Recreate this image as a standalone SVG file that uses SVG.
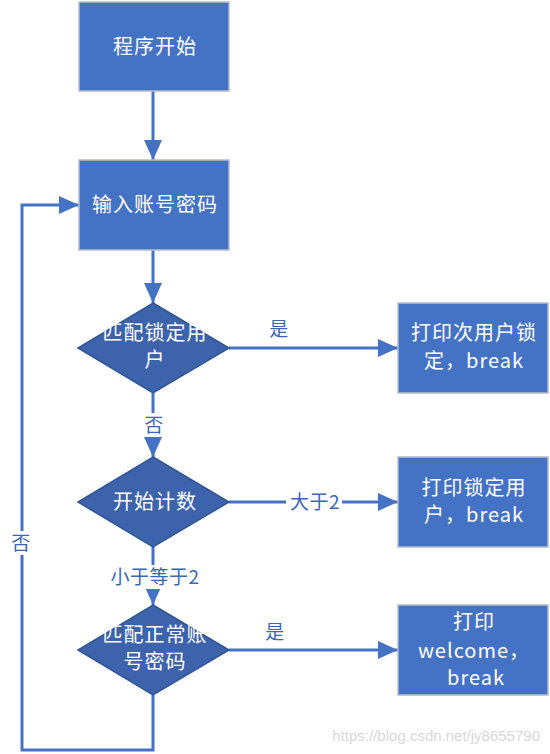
<svg xmlns="http://www.w3.org/2000/svg" width="550" height="754" viewBox="0 0 550 754">
<defs>
<marker id="arr" markerUnits="userSpaceOnUse" markerWidth="20" markerHeight="18" viewBox="0 0 20 18" refX="20" refY="9" orient="auto">
<path d="M0,0 L20,9 L0,18 Z" fill="#4472C4"/>
</marker>
<style>
.box{fill:#4472C4;stroke:#B4BCCB;stroke-width:1.5}
.dia{fill:#3C63AB;stroke:#2F5597;stroke-width:1.5}
.nt{fill:#FFFFFF;font-family:"Noto Sans CJK SC","Liberation Sans",sans-serif;font-size:20px;letter-spacing:1px;text-anchor:middle}
.lt{fill:#3B66B8;font-family:"Noto Sans CJK SC","Liberation Sans",sans-serif;font-size:19px;letter-spacing:0.5px;text-anchor:middle}
.ln{fill:none;stroke:#4472C4;stroke-width:3}
</style>
</defs>
<rect width="550" height="754" fill="#FFFFFF"/>
<g id="connectors">
<line class="ln" x1="153" y1="91" x2="153" y2="160" marker-end="url(#arr)"/>
<line class="ln" x1="153" y1="250" x2="153" y2="303" marker-end="url(#arr)"/>
<line class="ln" x1="229" y1="348" x2="398" y2="348" marker-end="url(#arr)"/>
<line class="ln" x1="153" y1="393" x2="153" y2="457" marker-end="url(#arr)"/>
<line class="ln" x1="229" y1="502" x2="398" y2="502" marker-end="url(#arr)"/>
<line class="ln" x1="153" y1="547" x2="153" y2="605" marker-end="url(#arr)"/>
<line class="ln" x1="229" y1="650" x2="398" y2="650" marker-end="url(#arr)"/>
<polyline class="ln" points="153,695 153,750 22,750 22,205 79,205" marker-end="url(#arr)"/>
<text class="lt" x="279" y="336">是</text>
<rect x="142" y="413" width="22" height="24" fill="#FFFFFF"/>
<text class="lt" x="154" y="432">否</text>
<rect x="286" y="490" width="56" height="24" fill="#FFFFFF"/>
<text class="lt" x="315" y="509">大于2</text>
<rect x="104" y="565" width="100" height="24" fill="#FFFFFF"/>
<text class="lt" x="155" y="584">小于等于2</text>
<text class="lt" x="275" y="639">是</text>
<rect x="9" y="531" width="25" height="24" fill="#FFFFFF"/>
<text class="lt" x="21" y="550">否</text>
</g>
<g id="start">
<rect class="box" x="79" y="2" width="150" height="89"/>
<text class="nt" x="155" y="54">程序开始</text>
</g>
<g id="input">
<rect class="box" x="79" y="160" width="150" height="90"/>
<text class="nt" x="155" y="212">输入账号密码</text>
</g>
<g id="check-locked">
<polygon class="dia" points="153,303 229,348 153,393 78,348"/>
<text class="nt" x="155" y="340">匹配锁定用</text>
<text class="nt" x="155" y="367">户</text>
</g>
<g id="locked-out">
<rect class="box" x="398" y="303" width="150" height="90"/>
<text class="nt" x="474" y="340">打印次用户锁</text>
<text class="nt" x="474" y="368">定，break</text>
</g>
<g id="count">
<polygon class="dia" points="153,457 229,502 153,547 78,502"/>
<text class="nt" x="155" y="509">开始计数</text>
</g>
<g id="lock-user">
<rect class="box" x="398" y="457" width="150" height="90"/>
<text class="nt" x="474" y="495">打印锁定用</text>
<text class="nt" x="474" y="522">户，break</text>
</g>
<g id="check-normal">
<polygon class="dia" points="153,605 229,650 153,695 78,650"/>
<text class="nt" x="155" y="642">匹配正常账</text>
<text class="nt" x="155" y="669">号密码</text>
</g>
<g id="welcome">
<rect class="box" x="398" y="605" width="150" height="90"/>
<text class="nt" x="474" y="629">打印</text>
<text class="nt" x="474" y="658">welcome，</text>
<text class="nt" x="476" y="685">break</text>
</g>
<text x="540" y="741" fill="#D8D8D8" font-family="Liberation Sans, Arial, sans-serif" font-size="15" text-anchor="end">https://blog.csdn.net/jy8655790</text>
</svg>
